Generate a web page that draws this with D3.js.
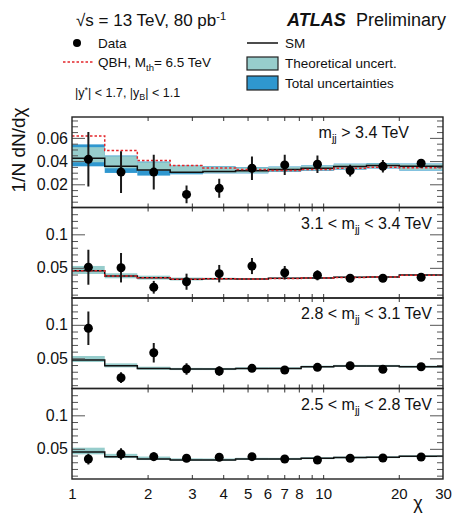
<!DOCTYPE html>
<html>
<head>
<meta charset="utf-8">
<script src="https://cdn.jsdelivr.net/npm/d3@7"></script>
<style>
  body { margin: 0; background: #fff; }
  svg { display: block; }
  text { font-family: "Liberation Sans", Arial, Helvetica, sans-serif; fill: #111; }
</style>
</head>
<body>
<svg id="chart" width="454" height="514"></svg>
<script>
// chi bin edges (log-spaced) shared by all mass bins
const chiEdges = [1, 1.35, 1.82, 2.46, 3.32, 4.48, 6.05, 8.17, 11.02, 14.88, 20.09, 30];

// m_jj > 3.4 TeV
const data1 = [0.0415, 0.0305, 0.0305, 0.0113, 0.0165, 0.0338, 0.0367, 0.0373, 0.0318, 0.0355, 0.0381];
const err1  = [0.0235, 0.018, 0.015, 0.0077, 0.0082, 0.0101, 0.0087, 0.0075, 0.0051, 0.0054, 0.0033];
const sm1   = [0.0425, 0.0355, 0.0324, 0.0303, 0.0310, 0.0316, 0.0327, 0.0338, 0.0353, 0.0362, 0.0356];
const theoLo1 = [0.0390, 0.0338, 0.0318, 0.0295, 0.0298, 0.0298, 0.0310, 0.0320, 0.0330, 0.0340, 0.0322];
const theoHi1 = [0.0520, 0.0442, 0.0390, 0.0360, 0.0353, 0.0345, 0.0350, 0.0360, 0.0375, 0.0380, 0.0376];
const totLo1  = [0.0355, 0.0298, 0.0275, 0.0286, 0.0294, 0.0294, 0.0306, 0.0316, 0.0326, 0.0336, 0.0318];
const totHi1  = [0.0544, 0.0448, 0.0396, 0.0362, 0.0356, 0.0348, 0.0353, 0.0363, 0.0378, 0.0383, 0.0379];
const qbh1  = [0.0616, 0.0492, 0.0405, 0.0362, 0.0341, 0.0327, 0.0318, 0.0327, 0.0338, 0.0347, 0.0342];

// 3.1 < m_jj < 3.4 TeV
const data2 = [0.0508, 0.0502, 0.0210, 0.0293, 0.0413, 0.0527, 0.0427, 0.0389, 0.0344, 0.0344, 0.0359];
const err2  = [0.026, 0.022, 0.0095, 0.012, 0.013, 0.012, 0.010, 0.0075, 0.004, 0.003, 0.003];
const sm2   = [0.0457, 0.0378, 0.0353, 0.0329, 0.0338, 0.0333, 0.0344, 0.0348, 0.0359, 0.0363, 0.0393];
const theoLo2 = [0.0408, 0.0344, 0.0325, 0.0312, 0.0322, 0.0320, 0.0332, 0.0336, 0.0347, 0.0351, 0.0380];
const theoHi2 = [0.0528, 0.0419, 0.0383, 0.0355, 0.0352, 0.0346, 0.0356, 0.0360, 0.0371, 0.0375, 0.0406];
const qbh2  = [0.0455, 0.0378, 0.0351, 0.0329, 0.0336, 0.0333, 0.0342, 0.0348, 0.0357, 0.0363, 0.0391];

// 2.8 < m_jj < 3.1 TeV
const data3 = [0.0948, 0.0211, 0.0584, 0.0341, 0.0311, 0.0351, 0.0326, 0.0366, 0.0390, 0.0336, 0.0375];
const err3  = [0.025, 0.008, 0.0145, 0.0087, 0.007, 0.005, 0.004, 0.003, 0.0025, 0.002, 0.002];
const sm3   = [0.0475, 0.0390, 0.0350, 0.0340, 0.0340, 0.0350, 0.0350, 0.0375, 0.0386, 0.0386, 0.0375];
const theoLo3 = [0.0445, 0.0365, 0.0330, 0.0325, 0.0325, 0.0335, 0.0336, 0.0361, 0.0372, 0.0372, 0.0361];
const theoHi3 = [0.0535, 0.0425, 0.0375, 0.0358, 0.0357, 0.0366, 0.0366, 0.0391, 0.0402, 0.0402, 0.0391];

// 2.5 < m_jj < 2.8 TeV
const data4 = [0.0348, 0.0423, 0.0383, 0.0359, 0.0374, 0.0383, 0.0348, 0.0333, 0.0359, 0.0363, 0.0378];
const err4  = [0.008, 0.0087, 0.0065, 0.004, 0.003, 0.003, 0.0025, 0.002, 0.002, 0.002, 0.002];
const sm4   = [0.0452, 0.0383, 0.0348, 0.0333, 0.0333, 0.0348, 0.0348, 0.0359, 0.0370, 0.0374, 0.0389];
const theoLo4 = [0.0418, 0.0362, 0.0333, 0.0320, 0.0320, 0.0335, 0.0335, 0.0346, 0.0357, 0.0361, 0.0376];
const theoHi4 = [0.0517, 0.0425, 0.0385, 0.0358, 0.0356, 0.0366, 0.0365, 0.0375, 0.0385, 0.0389, 0.0404];

// mass-bin labels: [before subscript, subscript, after subscript]
const massLabels = [
  ["m", "jj", " > 3.4 TeV"],
  ["3.1 < m", "jj", " < 3.4 TeV"],
  ["2.8 < m", "jj", " < 3.1 TeV"],
  ["2.5 < m", "jj", " < 2.8 TeV"]
];

// axis ticks
const xLabelValues = [1, 2, 3, 4, 5, 6, 7, 8, 10, 20, 30];
const xTickValues = [2, 3, 4, 5, 6, 7, 8, 9, 10, 20];
const yMajorTop = [0.02, 0.04, 0.06];
const yLabelsTop = ["0.02", "0.04", "0.06"];
const yMajor = [0.05, 0.1];
const yLabels = ["0.05", "0.1"];

const TEAL = "#97cdcc", BLUE = "#2f97cf", RED = "#e3262b";

const svg = d3.select("#chart");
const left = 72, right = 443, plotTop = 117, panelH = 90.5;
const x = d3.scaleLog().domain([1, 30]).range([left, right]);

const panels = [
  { label: massLabels[0], labelEnd: 409, data: data1, err: err1, sm: sm1, lo: theoLo1, hi: theoHi1,
    totLo: totLo1, totHi: totHi1, qbh: qbh1, domain: [0, 0.078], major: yMajorTop, majorLabels: yLabelsTop, minorStep: 0.005 },
  { label: massLabels[1], labelEnd: 432, data: data2, err: err2, sm: sm2, lo: theoLo2, hi: theoHi2,
    qbh: qbh2, domain: [0.005, 0.14], major: yMajor, majorLabels: yLabels, minorStep: 0.01 },
  { label: massLabels[2], labelEnd: 432, data: data3, err: err3, sm: sm3, lo: theoLo3, hi: theoHi3,
    domain: [0.005, 0.14], major: yMajor, majorLabels: yLabels, minorStep: 0.01 },
  { label: massLabels[3], labelEnd: 432, data: data4, err: err4, sm: sm4, lo: theoLo4, hi: theoHi4,
    domain: [0.005, 0.14], major: yMajor, majorLabels: yLabels, minorStep: 0.01 }
];

const bins = d3.range(chiEdges.length - 1);
const binCenter = i => Math.sqrt(chiEdges[i] * chiEdges[i + 1]);

panels.forEach((p, k) => {
  const y0 = plotTop + k * panelH;
  const y = d3.scaleLinear().domain(p.domain).range([y0 + panelH, y0]);
  const clipId = "clip" + k;
  svg.append("clipPath").attr("id", clipId)
    .append("rect").attr("x", left).attr("y", y0).attr("width", right - left).attr("height", panelH);
  const g = svg.append("g").attr("clip-path", `url(#${clipId})`);

  // uncertainty bands
  const band = (lo, hi, color) => g.append("g").selectAll("rect").data(bins).join("rect")
    .attr("x", i => x(chiEdges[i]))
    .attr("width", i => x(chiEdges[i + 1]) - x(chiEdges[i]))
    .attr("y", i => y(hi[i]))
    .attr("height", i => y(lo[i]) - y(hi[i]))
    .attr("fill", color);
  if (p.totLo) band(p.totLo, p.totHi, BLUE);
  band(p.lo, p.hi, TEAL);

  // step histograms
  const stepLine = d3.line().curve(d3.curveStepAfter).x(d => x(d[0])).y(d => y(d[1]));
  const steps = vals => chiEdges.map((e, i) => [e, vals[Math.min(i, vals.length - 1)]]);
  g.append("path").attr("d", stepLine(steps(p.sm)))
    .attr("fill", "none").attr("stroke", "#111").attr("stroke-width", 1.5);
  if (p.qbh) {
    g.append("path").attr("d", stepLine(steps(p.qbh)))
      .attr("fill", "none").attr("stroke", RED).attr("stroke-width", 1.5)
      .attr("stroke-dasharray", "2.5,2");
  }

  // data with statistical error bars
  g.append("g").selectAll("line").data(bins).join("line")
    .attr("x1", i => x(binCenter(i))).attr("x2", i => x(binCenter(i)))
    .attr("y1", i => y(p.data[i] - p.err[i])).attr("y2", i => y(p.data[i] + p.err[i]))
    .attr("stroke", "#1a1a1a").attr("stroke-width", 2);
  g.append("g").selectAll("circle").data(bins).join("circle")
    .attr("cx", i => x(binCenter(i))).attr("cy", i => y(p.data[i]))
    .attr("r", 4.5).attr("fill", "#000");

  // y ticks (inside, both sides)
  const minorVals = d3.range(p.minorStep, p.domain[1], p.minorStep)
    .filter(v => v > p.domain[0] && !p.major.some(m => Math.abs(m - v) < 1e-9));
  const ax = svg.append("g");
  const yl = ax.append("g").attr("transform", `translate(${left},0)`)
    .call(d3.axisLeft(y).tickValues(p.major).tickSize(-13).tickPadding(4)
      .tickFormat((d, i) => p.majorLabels[i]));
  yl.select(".domain").remove();
  yl.selectAll("line").attr("stroke", "#555");
  yl.selectAll("text").attr("font-size", 16).attr("fill", "#111")
    .attr("font-family", '"Liberation Sans", Arial, sans-serif');
  const ylm = ax.append("g").attr("transform", `translate(${left},0)`)
    .call(d3.axisLeft(y).tickValues(minorVals).tickSize(-6).tickFormat(""));
  ylm.select(".domain").remove();
  ylm.selectAll("line").attr("stroke", "#555");
  const yr = ax.append("g").attr("transform", `translate(${right},0)`)
    .call(d3.axisRight(y).tickValues(p.major).tickSize(-13).tickFormat(""));
  yr.select(".domain").remove();
  yr.selectAll("line").attr("stroke", "#555");
  const yrm = ax.append("g").attr("transform", `translate(${right},0)`)
    .call(d3.axisRight(y).tickValues(minorVals).tickSize(-6).tickFormat(""));
  yrm.select(".domain").remove();
  yrm.selectAll("line").attr("stroke", "#555");

  // x ticks (inside, top and bottom of each panel)
  const xb = ax.append("g").attr("transform", `translate(0,${y0 + panelH})`)
    .call(d3.axisBottom(x).tickValues(xTickValues).tickSize(-4).tickFormat(""));
  xb.select(".domain").remove();
  xb.selectAll("line").attr("stroke", "#333");
  const xt = ax.append("g").attr("transform", `translate(0,${y0})`)
    .call(d3.axisTop(x).tickValues(xTickValues).tickSize(-4).tickFormat(""));
  xt.select(".domain").remove();
  xt.selectAll("line").attr("stroke", "#333");

  // frame
  ax.append("rect").attr("x", left).attr("y", y0).attr("width", right - left).attr("height", panelH)
    .attr("fill", "none").attr("stroke", "#222").attr("stroke-width", 1.4);

  // mass-bin label
  const t = svg.append("text").attr("x", p.labelEnd).attr("y", y0 + 21)
    .attr("text-anchor", "end").attr("font-size", 16);
  t.append("tspan").text(p.label[0]);
  t.append("tspan").attr("dy", 4).attr("font-size", 11).text(p.label[1]);
  t.append("tspan").attr("dy", -4).text(p.label[2]);

  // x tick labels on the lowest panel
  if (k === panels.length - 1) {
    const xl = svg.append("g").attr("transform", `translate(0,${y0 + panelH})`)
      .call(d3.axisBottom(x).tickValues(xLabelValues).tickSize(0).tickPadding(9)
        .tickFormat(d3.format("d")));
    xl.select(".domain").remove();
    xl.selectAll("text").attr("font-size", 15).attr("fill", "#111")
      .attr("font-family", '"Liberation Sans", Arial, sans-serif');
  }
});

// axis titles
svg.append("text").attr("transform", "translate(25,150) rotate(-90)")
  .attr("text-anchor", "middle").attr("font-size", 19).text("1/N dN/dχ");
svg.append("text").attr("x", 418).attr("y", 509).attr("text-anchor", "middle")
  .attr("font-size", 18).text("χ");

// header
const hdr = svg.append("text").attr("x", 76).attr("y", 26).attr("font-size", 17);
hdr.append("tspan").text("√s = 13 TeV, 80 pb");
hdr.append("tspan").attr("dy", -6).attr("font-size", 11).text("-1");
svg.append("text").attr("x", 287).attr("y", 26).attr("font-size", 18)
  .attr("font-weight", "bold").attr("font-style", "italic").text("ATLAS");
svg.append("text").attr("x", 356).attr("y", 26).attr("font-size", 18).text("Preliminary");

// legend
const lf = 13.5;
svg.append("circle").attr("cx", 77).attr("cy", 43).attr("r", 4).attr("fill", "#000");
svg.append("text").attr("x", 98).attr("y", 48).attr("font-size", lf).text("Data");
svg.append("line").attr("x1", 63).attr("x2", 93).attr("y1", 62).attr("y2", 62)
  .attr("stroke", RED).attr("stroke-width", 1.5).attr("stroke-dasharray", "2.5,2");
const q = svg.append("text").attr("x", 98).attr("y", 67).attr("font-size", lf);
q.append("tspan").text("QBH, M");
q.append("tspan").attr("dy", 4).attr("font-size", 9.5).text("th");
q.append("tspan").attr("dy", -4).text("= 6.5 TeV");

svg.append("line").attr("x1", 247).attr("x2", 278).attr("y1", 43).attr("y2", 43)
  .attr("stroke", "#111").attr("stroke-width", 1.5);
svg.append("text").attr("x", 285).attr("y", 48).attr("font-size", lf).text("SM");
svg.append("rect").attr("x", 247).attr("y", 57).attr("width", 31).attr("height", 13)
  .attr("fill", TEAL).attr("stroke", "#222").attr("stroke-width", 1.2);
svg.append("text").attr("x", 285).attr("y", 68).attr("font-size", lf).text("Theoretical uncert.");
svg.append("rect").attr("x", 247).attr("y", 76).attr("width", 31).attr("height", 14)
  .attr("fill", BLUE).attr("stroke", "#222").attr("stroke-width", 1.2);
svg.append("text").attr("x", 285).attr("y", 88).attr("font-size", lf).text("Total uncertainties");

// rapidity selection
const sel = svg.append("text").attr("x", 75).attr("y", 97).attr("font-size", 12.5);
sel.append("tspan").text("|y");
sel.append("tspan").attr("dy", -4).attr("font-size", 9).text("*");
sel.append("tspan").attr("dy", 4).text("| < 1.7, |y");
sel.append("tspan").attr("dy", 3).attr("font-size", 9).text("B");
sel.append("tspan").attr("dy", -3).text("| < 1.1");
</script>
</body>
</html>
